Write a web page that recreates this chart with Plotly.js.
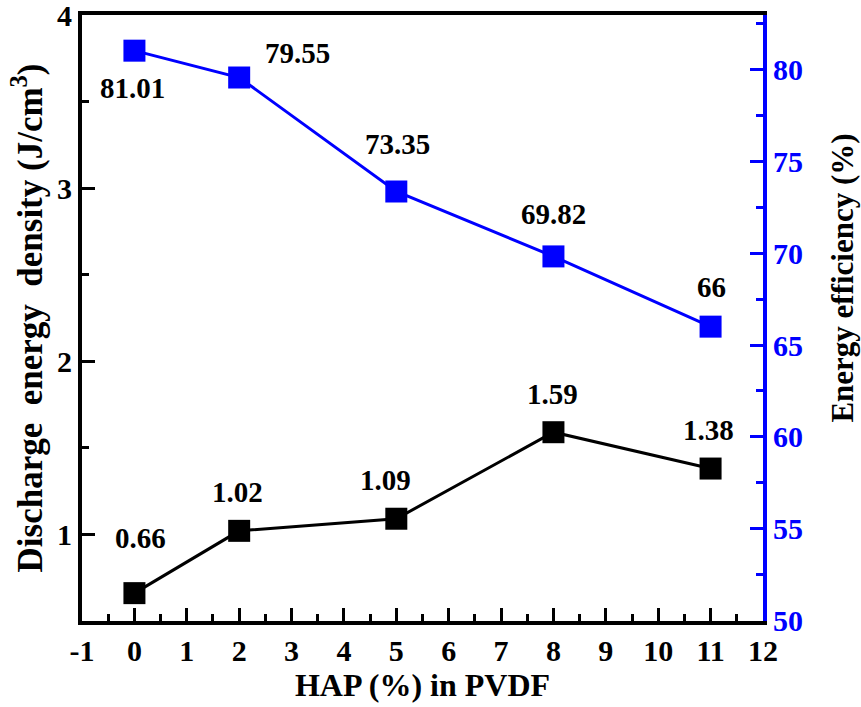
<!DOCTYPE html>
<html>
<head>
<meta charset="utf-8">
<script src="https://cdn.plot.ly/plotly-3.0.1.min.js"></script>
<style>
html,body{margin:0;padding:0;background:#fff;}
#chart{width:861px;height:707px;}
#chart svg text{font-family:"Liberation Serif","Times New Roman","DejaVu Serif",serif !important;}
</style>
</head>
<body>
<div id="chart"></div>
<script>
// ---- data ----
var hapPercent = [0, 2, 5, 8, 11];
var dischargeDensity = [0.66, 1.02, 1.09, 1.59, 1.38];
var energyEfficiency = [81.01, 79.55, 73.35, 69.82, 66];
var densityLabels = ["0.66", "1.02", "1.09", "1.59", "1.38"];
var efficiencyLabels = ["81.01", "79.55", "73.35", "69.82", "66"];
var xTickValues = [-1, 0, 1, 2, 3, 4, 5, 6, 7, 8, 9, 10, 11, 12];
var xTickLabels = ["-1", "0", "1", "2", "3", "4", "5", "6", "7", "8", "9", "10", "11", "12"];
var yTickValues = [1, 2, 3, 4];
var yTickLabels = ["1", "2", "3", "4"];
var rightTitle = "Energy efficiency (%)";

// ---- label offsets (pixels), styling only ----
var densityShift = [[6, 55], [-2, 39], [-11, 39], [-1, 38], [-2, 39]];
var efficiencyShift = [[-2, -37], [58, 25], [1, 48], [0, 42], [1, 40]];

var FONT = "Liberation Serif";
var BLUE = "#0000ff";

var traces = [
  {
    x: hapPercent, y: dischargeDensity, type: "scatter", mode: "lines+markers",
    line: {color: "#000", width: 3},
    marker: {symbol: "square", size: 22, color: "#000"},
    yaxis: "y", showlegend: false, hoverinfo: "x+y"
  },
  {
    x: hapPercent, y: energyEfficiency, type: "scatter", mode: "lines+markers",
    line: {color: BLUE, width: 3},
    marker: {symbol: "square", size: 22, color: BLUE},
    yaxis: "y2", showlegend: false, hoverinfo: "x+y"
  }
];

var annotations = [];
hapPercent.forEach(function (xv, i) {
  annotations.push({
    x: xv, y: dischargeDensity[i], xref: "x", yref: "y",
    text: "<b>" + densityLabels[i] + "</b>", showarrow: false,
    xshift: densityShift[i][0], yshift: densityShift[i][1],
    font: {family: FONT, size: 29, color: "#000"}
  });
  annotations.push({
    x: xv, y: energyEfficiency[i], xref: "x", yref: "y2",
    text: "<b>" + efficiencyLabels[i] + "</b>", showarrow: false,
    xshift: efficiencyShift[i][0], yshift: efficiencyShift[i][1],
    font: {family: FONT, size: 29, color: "#000"}
  });
});
// right axis title (placed off-centre as in the reference)
annotations.push({
  xref: "paper", yref: "paper", x: 1, y: 0.565, xshift: 80,
  xanchor: "center", yanchor: "middle", textangle: -90,
  text: "<b>" + rightTitle + "</b>", showarrow: false,
  font: {family: FONT, size: 31, color: "#000"}
});

var layout = {
  width: 861, height: 707,
  margin: {l: 82, r: 98, t: 15, b: 86, pad: 0},
  paper_bgcolor: "#fff", plot_bgcolor: "#fff",
  font: {family: FONT, size: 30, color: "#000", weight: "bold"},
  xaxis: {
    range: [-1.001, 12.001], tickmode: "array", tickvals: xTickValues, ticktext: xTickLabels,
    showgrid: false, zeroline: false,
    showline: true, linecolor: "#000", linewidth: 4, mirror: true,
    ticks: "inside", ticklen: 13, tickwidth: 3, tickcolor: "#000",
    ticklabeloverflow: "allow",
    minor: {dtick: 0.5, tick0: 0, ticks: "inside", ticklen: 7, tickwidth: 3, tickcolor: "#000", showgrid: false},
    tickfont: {family: FONT, size: 30, color: "#000", weight: "bold"},
    title: {text: "HAP (%) in PVDF", font: {family: FONT, size: 32, color: "#000", weight: "bold"}, standoff: 3}
  },
  yaxis: {
    range: [0.499, 4.001], tickmode: "array", tickvals: yTickValues, ticktext: yTickLabels,
    showgrid: false, zeroline: false,
    showline: true, linecolor: "#000", linewidth: 4,
    ticks: "inside", ticklen: 13, tickwidth: 3, tickcolor: "#000",
    ticklabeloverflow: "allow",
    minor: {dtick: 0.5, tick0: 0, ticks: "inside", ticklen: 7, tickwidth: 3, tickcolor: "#000", showgrid: false},
    tickfont: {family: FONT, size: 30, color: "#000", weight: "bold"},
    title: {text: "Discharge  energy  density (J/cm<sup>3</sup>)", font: {family: FONT, size: 35, color: "#000", weight: "bold"}, standoff: 5}
  },
  yaxis2: {
    overlaying: "y", side: "right",
    range: [49.99, 82.95], tick0: 50, dtick: 5,
    showgrid: false, zeroline: false,
    showline: true, linecolor: BLUE, linewidth: 4,
    ticks: "inside", ticklen: 13, tickwidth: 3, tickcolor: BLUE,
    ticklabeloverflow: "allow",
    minor: {dtick: 2.5, tick0: 50, ticks: "inside", ticklen: 7, tickwidth: 3, tickcolor: BLUE, showgrid: false},
    tickfont: {family: FONT, size: 30, color: BLUE, weight: "bold"}
  },
  annotations: annotations
};

Plotly.newPlot("chart", traces, layout, {displayModeBar: false, staticPlot: true});
</script>
</body>
</html>
